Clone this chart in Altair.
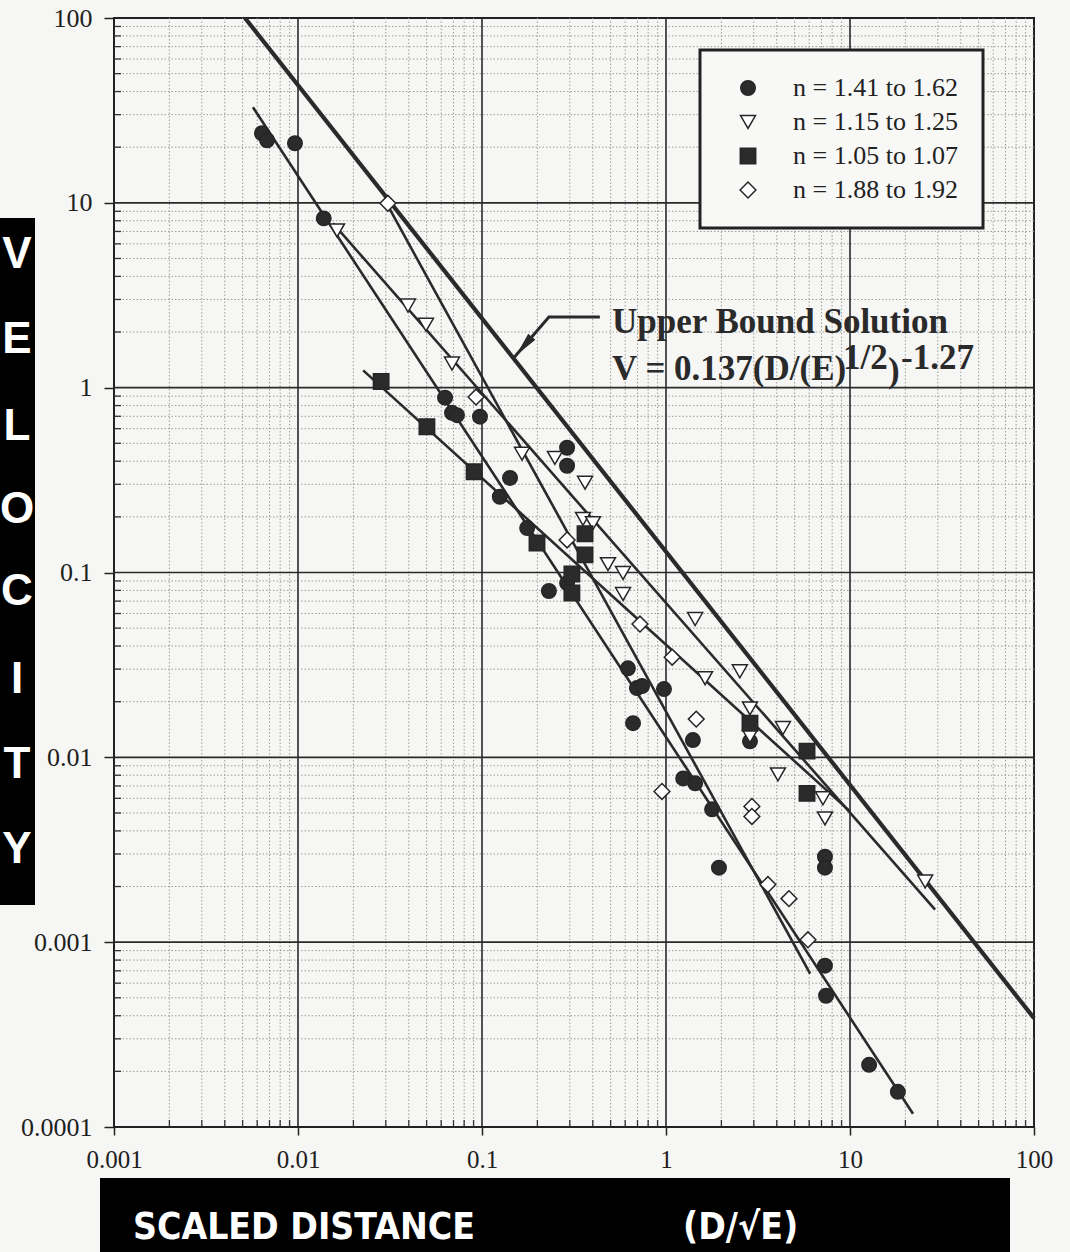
import altair as alt
import pandas as pd

# ---------------- data ----------------
series_labels = ["n = 1.41 to 1.62", "n = 1.15 to 1.25", "n = 1.05 to 1.07", "n = 1.88 to 1.92"]
series_shapes = ["circle", "triangle-down", "square", "diamond"]
series_fills = ["#2b2b2b", "#ffffff", "#2b2b2b", "#ffffff"]
series_strokes = ["#262626", "#262626", "#262626", "#262626"]
series_sizes = [210, 250, 190, 300]

circle_x = [0.00637, 0.00679, 0.00963, 0.0138, 0.0630, 0.0687, 0.0731, 0.0975, 0.142, 0.125, 0.176, 0.231,
            0.290, 0.290, 0.290, 0.621, 0.695, 0.741, 0.975, 0.662, 1.40, 1.24, 1.44, 1.78, 2.86, 1.94,
            7.31, 7.31, 7.31, 7.41, 12.7, 18.2]
circle_y = [23.8, 21.8, 21.0, 8.24, 0.883, 0.731, 0.71, 0.697, 0.325, 0.257, 0.174, 0.0794,
            0.473, 0.378, 0.0877, 0.0303, 0.0237, 0.0243, 0.0234, 0.0153, 0.0124, 0.00769, 0.00723, 0.00523, 0.0122, 0.00253,
            0.0029, 0.00253, 0.000746, 0.000513, 0.000217, 0.000155]

tri_x = [0.0163, 0.0396, 0.0496, 0.0687, 0.165, 0.249, 0.363, 0.354, 0.401, 0.484, 0.584, 0.584,
         1.44, 2.52, 1.63, 2.86, 2.86, 4.32, 4.06, 7.13, 7.31, 25.6]
tri_y = [7.09, 2.78, 2.19, 1.35, 0.439, 0.417, 0.306, 0.195, 0.185, 0.111, 0.0994, 0.0765,
         0.056, 0.0292, 0.0268, 0.0184, 0.013, 0.0144, 0.00809, 0.006, 0.00467, 0.00213]

sq_x = [0.0283, 0.0502, 0.0906, 0.199, 0.363, 0.363, 0.308, 0.308, 2.86, 5.84, 5.84]
sq_y = [1.08, 0.615, 0.351, 0.1445, 0.162, 0.1245, 0.0982, 0.0774, 0.0153, 0.0108, 0.00638]

dia_x = [0.0308, 0.0928, 0.290, 0.722, 1.08, 1.46, 0.951, 2.93, 2.93, 3.58, 4.66, 5.91]
dia_y = [9.94, 0.89, 0.15, 0.0526, 0.0348, 0.0161, 0.00654, 0.00542, 0.00479, 0.00205, 0.00172, 0.00103]

# fitted lines (start / end)
fit_x1 = [0.00569, 0.0155, 0.0226, 0.0297]
fit_y1 = [32.9, 7.74, 1.24, 10.3]
fit_x2 = [22.0, 29.0, 10.0, 6.07]
fit_y2 = [0.000118, 0.0015, 0.0051, 0.000675]

upper_x = [0.00515, 100.0]
upper_y = [100.0, 0.000388]

arrow_x = [0.437, 0.231, 0.149]
arrow_y = [2.41, 2.41, 1.45]

x_ticks = [0.001, 0.01, 0.1, 1, 10, 100]
y_ticks = [0.0001, 0.001, 0.01, 0.1, 1, 10, 100]
x_major_inner = [0.01, 0.1, 1, 10]
y_major_inner = [0.001, 0.01, 0.1, 1, 10]
x_decades = [0.001, 0.01, 0.1, 1, 10]
y_decades = [0.0001, 0.001, 0.01, 0.1, 1, 10]
minor_mult = [2, 3, 4, 5, 6, 7, 8, 9]

velocity_letters = ["V", "E", "L", "O", "C", "I", "T", "Y"]
velocity_letter_y = [237, 322, 409, 492, 574, 662, 747, 832]

# ---------------- layout ----------------
W, H = 920, 1109
INK = "#2a2a2a"
SERIF = "Liberation Serif"

xs = alt.Scale(type="log", domain=[0.001, 100], nice=False)
ys = alt.Scale(type="log", domain=[0.0001, 100], nice=False)
ax_x = alt.Axis(values=x_ticks, format="~g", grid=False, domain=False, tickSize=8, tickWidth=1.5,
                tickColor="#222", labelFont=SERIF, labelFontSize=25, labelColor="#1e1e1e",
                labelPadding=12, labelFlush=False, labelOverlap=False, title=None)
ax_y = alt.Axis(values=y_ticks, format="~g", grid=False, domain=False, tickSize=10, tickWidth=1.5,
                tickColor="#222", labelFont=SERIF, labelFontSize=26, labelColor="#1e1e1e",
                labelPadding=12, labelFlush=False, labelOverlap=False, title=None)

X = lambda f: alt.X(f, type="quantitative", scale=xs, axis=ax_x)
Y = lambda f: alt.Y(f, type="quantitative", scale=ys, axis=ax_y)
X2 = lambda f: alt.X2(f)
Y2 = lambda f: alt.Y2(f)

minor_x_df = pd.DataFrame({"v": [m * d for d in x_decades for m in minor_mult]})
minor_y_df = pd.DataFrame({"v": [m * d for d in y_decades for m in minor_mult]})
major_x_df = pd.DataFrame({"v": x_major_inner})
major_y_df = pd.DataFrame({"v": y_major_inner})

grid_minor_x = alt.Chart(minor_x_df).mark_rule(color="#9c9c9c", strokeWidth=1, strokeDash=[1.5, 2]).encode(x=X("v"))
grid_minor_y = alt.Chart(minor_y_df).mark_rule(color="#9c9c9c", strokeWidth=1, strokeDash=[1.5, 2]).encode(y=Y("v"))
tick_minor_x = alt.Chart(minor_x_df).mark_rule(color="#333", strokeWidth=1.3).encode(
    x=X("v"), y=alt.value(H), y2=alt.value(H - 7))
tick_minor_y = alt.Chart(minor_y_df).mark_rule(color="#333", strokeWidth=1.3).encode(
    y=Y("v"), x=alt.value(0), x2=alt.value(7))
grid_major_x = alt.Chart(major_x_df).mark_rule(color=INK, strokeWidth=1.6).encode(x=X("v"))
grid_major_y = alt.Chart(major_y_df).mark_rule(color=INK, strokeWidth=1.6).encode(y=Y("v"))

fit_df = pd.DataFrame({"series": series_labels, "x1": fit_x1, "y1": fit_y1, "x2": fit_x2, "y2": fit_y2})
fit_lines = alt.Chart(fit_df).mark_rule(color=INK, strokeWidth=2.6).encode(
    x=X("x1"), y=Y("y1"), x2=X2("x2"), y2=Y2("y2"))

upper_df = pd.DataFrame({"x": upper_x, "y": upper_y, "o": [0, 1]})
upper_line = alt.Chart(upper_df).mark_line(color=INK, strokeWidth=4.2).encode(
    x=X("x"), y=Y("y"), order="o:Q")

arrow_df = pd.DataFrame({"x": arrow_x, "y": arrow_y, "o": [0, 1, 2]})
arrow_line = alt.Chart(arrow_df).mark_line(color=INK, strokeWidth=3).encode(
    x=X("x"), y=Y("y"), order="o:Q")
arrow_head = alt.Chart(pd.DataFrame({"x": [0.169], "y": [1.68]})).mark_point(
    shape="M0,-1L0.38,1L-0.38,1Z", filled=True, size=600, angle=220, color=INK, opacity=1).encode(
    x=X("x"), y=Y("y"))

pts = []
for lab, xv, yv in zip(series_labels, [circle_x, tri_x, sq_x, dia_x], [circle_y, tri_y, sq_y, dia_y]):
    pts.append(pd.DataFrame({"series": lab, "x": xv, "y": yv}))
pts_df = pd.concat(pts, ignore_index=True)

legend = alt.Legend(
    title=None, orient="none", legendX=586, legendY=32, direction="vertical",
    strokeColor="#222", fillColor="#f8f8f6",
    padding=25, symbolOffset=10, labelOffset=32, rowPadding=8,
    symbolStrokeWidth=1.5, symbolStrokeColor="#222",
    labelFont=SERIF, labelFontSize=26, labelColor="#222", labelLimit=400,
)
points = alt.Chart(pts_df).mark_point(filled=False, strokeWidth=1.5, opacity=1).encode(
    x=X("x"), y=Y("y"),
    shape=alt.Shape("series:N", scale=alt.Scale(domain=series_labels, range=series_shapes), legend=legend),
    fill=alt.Fill("series:N", scale=alt.Scale(domain=series_labels, range=series_fills), legend=legend),
    stroke=alt.Stroke("series:N", scale=alt.Scale(domain=series_labels, range=series_strokes), legend=legend),
    size=alt.Size("series:N", scale=alt.Scale(domain=series_labels, range=series_sizes), legend=legend),
)

# annotation text (anchored in data coordinates)
ann1 = alt.Chart(pd.DataFrame({"x": [0.509], "y": [1.97], "t": ["Upper Bound Solution"]})).mark_text(
    align="left", baseline="alphabetic", font=SERIF, fontSize=35, fontWeight="bold", color=INK).encode(
    x=X("x"), y=Y("y"), text="t:N")
eq_base = pd.DataFrame({"x": [0.509], "y": [1.10]})
eq_main = alt.Chart(eq_base.assign(t="V = 0.137(D/(E)")).mark_text(
    align="left", baseline="alphabetic", font=SERIF, fontSize=35, fontWeight="bold", color=INK).encode(
    x=X("x"), y=Y("y"), text="t:N")
eq_sup1 = alt.Chart(eq_base.assign(t="1/2")).mark_text(
    align="left", baseline="alphabetic", font=SERIF, fontSize=35, fontWeight="bold", color=INK, dx=231, dy=-11).encode(
    x=X("x"), y=Y("y"), text="t:N")
eq_par = alt.Chart(eq_base.assign(t=")")).mark_text(
    align="left", baseline="alphabetic", font=SERIF, fontSize=35, fontWeight="bold", color=INK, dx=276, dy=2).encode(
    x=X("x"), y=Y("y"), text="t:N")
eq_sup2 = alt.Chart(eq_base.assign(t="-1.27")).mark_text(
    align="left", baseline="alphabetic", font=SERIF, fontSize=35, fontWeight="bold", color=INK, dx=289, dy=-11).encode(
    x=X("x"), y=Y("y"), text="t:N")

# black title boxes
dummy = pd.DataFrame({"d": [0]})
left_box = alt.Chart(dummy).mark_rect(color="#000000", opacity=1).encode(
    x=alt.value(-114), x2=alt.value(-79), y=alt.value(200), y2=alt.value(887))
left_letters = alt.Chart(pd.DataFrame({"t": velocity_letters, "py": velocity_letter_y})).mark_text(
    align="center", baseline="middle", font="Liberation Sans", fontSize=44, fontWeight="bold", color="#ffffff").encode(
    x=alt.value(-97), y=alt.Y("py:Q", scale=None), text="t:N")
bottom_box = alt.Chart(dummy).mark_rect(color="#000000", opacity=1).encode(
    x=alt.value(-14), x2=alt.value(896), y=alt.value(1160), y2=alt.value(1240))
AXF = "Liberation Sans Narrow, Arial Narrow, DejaVu Sans Condensed, Liberation Sans"
bottom_text1 = alt.Chart(pd.DataFrame({"t": ["SCALED DISTANCE"]})).mark_text(
    align="left", baseline="alphabetic", font=AXF, fontSize=37, fontWeight="bold", color="#ffffff").encode(
    x=alt.value(19), y=alt.value(1221), text="t:N")
bottom_text2 = alt.Chart(pd.DataFrame({"t": ["(D/\u221aE)"]})).mark_text(
    align="left", baseline="alphabetic", font=AXF, fontSize=37, fontWeight="bold", color="#ffffff").encode(
    x=alt.value(569), y=alt.value(1221), text="t:N")

chart = alt.layer(
    grid_minor_x, grid_minor_y, tick_minor_x, tick_minor_y, grid_major_x, grid_major_y,
    fit_lines, upper_line, arrow_line, arrow_head, points,
    ann1, eq_main, eq_sup1, eq_par, eq_sup2,
    left_box, left_letters, bottom_box, bottom_text1, bottom_text2,
).properties(
    width=W, height=H,
    padding={"left": 114, "top": 18, "right": 36, "bottom": 125},
    autosize=alt.AutoSizeParams(type="none"),
).configure(background="#f6f6f4").configure_view(
    stroke="#222", strokeWidth=2
).configure_legend(strokeWidth=3, cornerRadius=0)

chart.save("out.html", embed_options={"renderer": "svg", "actions": False})
